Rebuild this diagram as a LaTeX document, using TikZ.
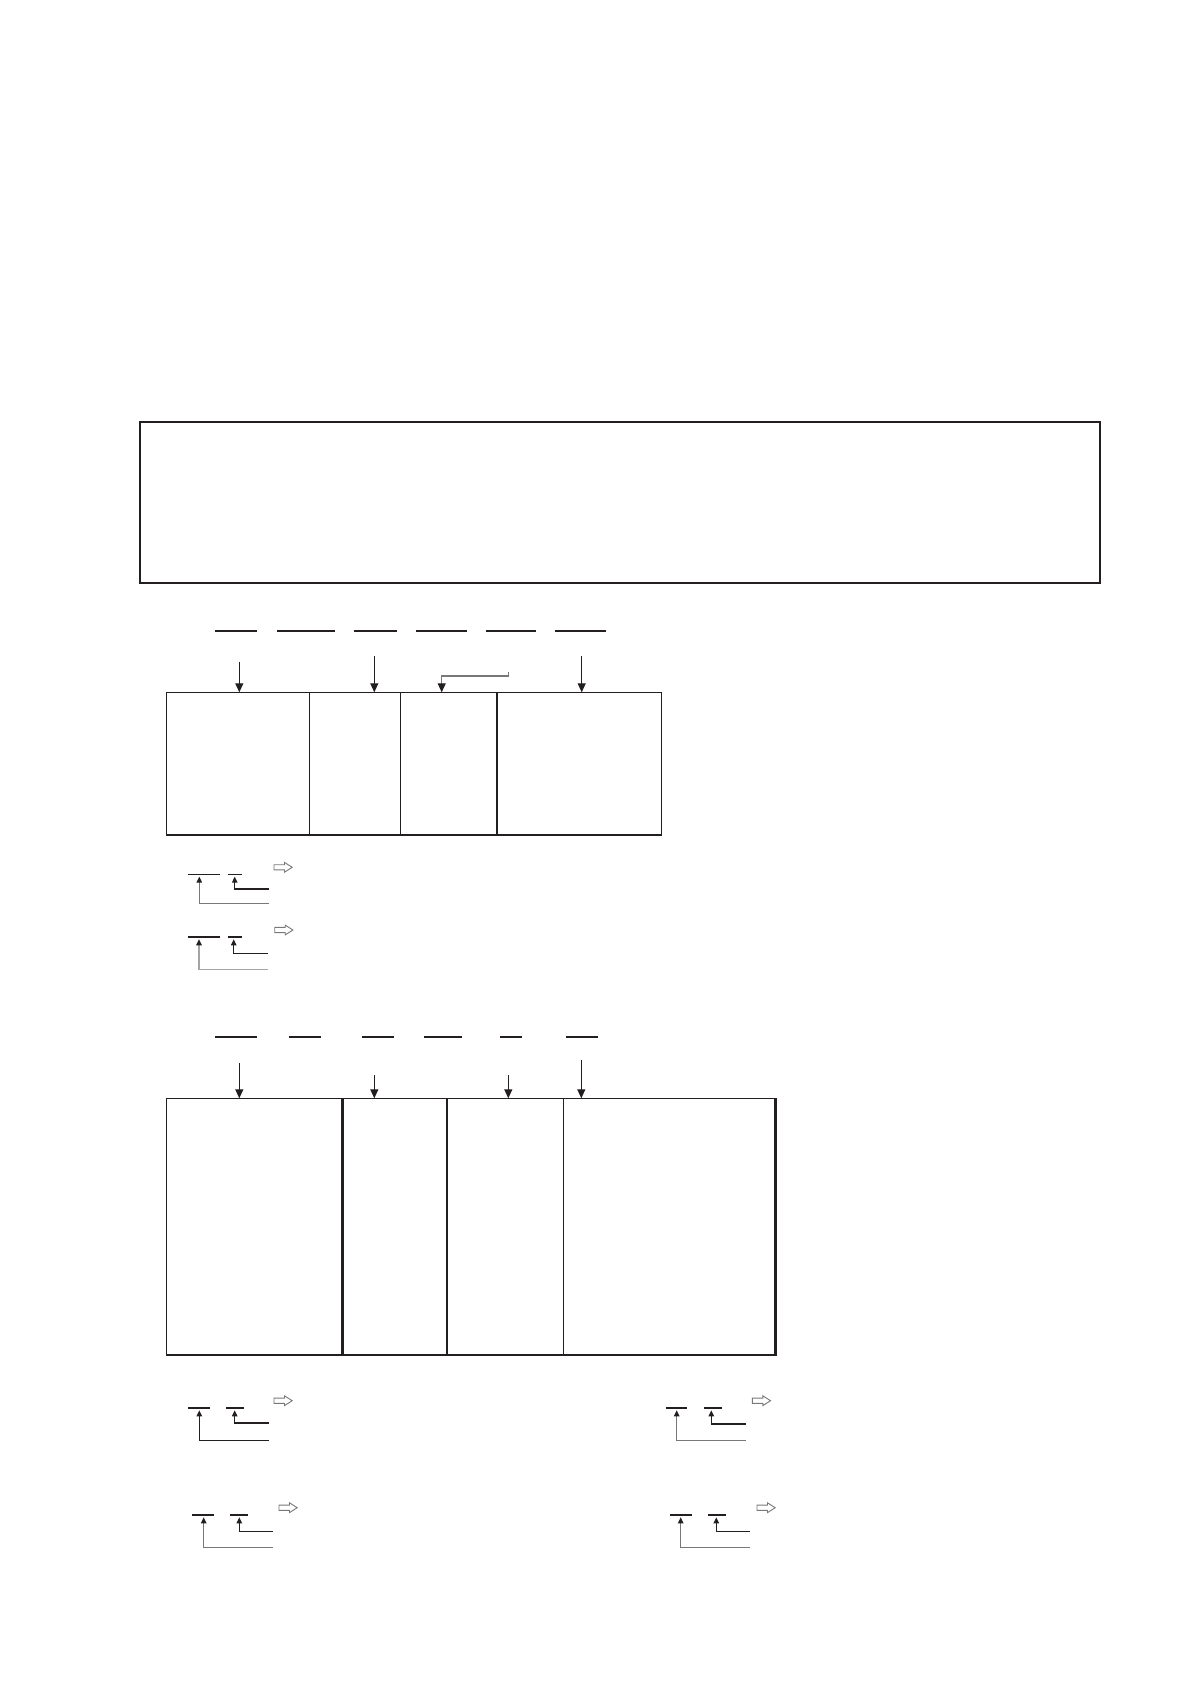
\documentclass[tikz,border=0pt]{standalone}
\usepackage{tikz}
\usetikzlibrary{arrows.meta,positioning}
\definecolor{inkblack}{RGB}{35,31,32}
\definecolor{leggray}{RGB}{120,120,120}
\definecolor{legpale}{RGB}{165,165,165}

\tikzset{
  cell/.style={draw=inkblack, line width=1.3pt, rectangle, inner sep=0pt, outer sep=0pt, anchor=north west},
  blank/.style={inkblack, line width=2pt},
  feed/.style={-{Triangle[length=9pt,width=8pt,color=inkblack]}, inkblack, line width=1.1pt},
  tag/.style={-{Triangle[length=6pt,width=5.5pt,color=inkblack]}, inkblack, line width=1.1pt},
  hollow/.style={draw=leggray, line width=0.9pt, fill=white, line join=miter},
}
\newcommand{\hollowarrow}[1]{%
  \draw[hollow] (#1) ++(0,-2.6) -- ++(10.5,0) -- ++(0,-2.3) -- ++(7.7,4.9)
    -- ++(-7.7,4.9) -- ++(0,-2.3) -- ++(-10.5,0) -- cycle;}

\begin{document}
\begin{tikzpicture}[x=1pt, y=-1pt]
\useasboundingbox[fill=white] (0,0) rectangle (1191,1684);
% Top frame
\node[cell, line width=2.2pt, minimum width=960.3pt, minimum height=161.3pt] (stem) at (140,422) {};

% Part one: blanks
\draw[blank] (215,630.5) -- (257.3,630.5);
\draw[blank] (277,630.5) -- (335.3,630.5);
\draw[blank] (354.3,630.5) -- (397,630.5);
\draw[blank] (416,630.5) -- (466.7,630.5);
\draw[blank] (485.7,630.5) -- (536,630.5);
\draw[blank] (555.3,630.5) -- (606,630.5);
% Part one: table
\node[cell, minimum width=143.4pt, minimum height=142.7pt] (oneA) at (166.3,692.3) {};
\node[cell, minimum width=90.6pt, minimum height=142.7pt, right=0pt of oneA] (oneB) {};
\node[cell, minimum width=96.7pt, minimum height=142.7pt, right=0pt of oneB] (oneC) {};
\node[cell, minimum width=164.3pt, minimum height=142.7pt, right=0pt of oneC] (oneD) {};
\draw[inkblack, line width=2.2pt] (oneD.north west) -- (oneD.south west);
% Part one: arrows
\coordinate (fa) at (239.3,661.7);
\coordinate (fb) at (374.3,656);
\coordinate (fc) at (508.3,671.7);
\coordinate (fd) at (581.7,656.3);
\draw[feed] (fa) -- (fa |- oneA.north);
\draw[feed] (fb) -- (fb |- oneB.north);
\draw[feed, draw=leggray] (fc) -- ++(0,4.3) -- ++(-66.6,0) coordinate (fcbend) -- (fcbend |- oneC.north);
\draw[feed] (fd) -- (fd |- oneD.north);

% Part one: notes
\hollowarrow{274,867.3}
\draw[inkblack, line width=1.4pt] (188,874.3) -- (220,874.3);
\draw[inkblack, line width=1.4pt] (227.7,874.3) -- (242,874.3);
\coordinate (na1) at (269,903.7);
\coordinate (na2) at (269,889);
\draw[tag, draw=leggray] (na1) -| (199.3,876.7);
\draw[tag] (na2) -| (234.7,876.7);

\hollowarrow{274.7,930}
\draw[inkblack, line width=2pt] (188,936.7) -- (220,936.7);
\draw[inkblack, line width=2pt] (228,936.7) -- (242,936.7);
\coordinate (nb1) at (268,969.7);
\coordinate (nb2) at (268,953.3);
\draw[tag, draw=legpale] (nb1) -| (199,939.3);
\draw[tag] (nb2) -| (233.7,939.3);

% Part two: blanks
\draw[blank] (215.3,1036.7) -- (257.3,1036.7);
\draw[blank] (289.3,1036.7) -- (321.3,1036.7);
\draw[blank] (362,1036.7) -- (393.7,1036.7);
\draw[blank] (424.3,1036.7) -- (461.7,1036.7);
\draw[blank] (500.3,1036.7) -- (521.7,1036.7);
\draw[blank] (566.3,1036.7) -- (598.3,1036.7);
% Part two: table
\node[cell, minimum width=176.2pt, minimum height=256.7pt] (twoA) at (166.3,1098.3) {};
\node[cell, minimum width=104.5pt, minimum height=256.7pt, right=0pt of twoA] (twoB) {};
\node[cell, minimum width=116.5pt, minimum height=256.7pt, right=0pt of twoB] (twoC) {};
\node[cell, minimum width=212pt, minimum height=256.7pt, right=0pt of twoC] (twoD) {};
\draw[inkblack, line width=2.2pt] (twoB.north west) -- (twoB.south west);
\draw[inkblack, line width=2.2pt] (twoA.south west) -- (twoD.south east) -- (twoD.north east);
% Part two: arrows
\coordinate (ga) at (239.3,1063.3);
\coordinate (gb) at (374.3,1075);
\coordinate (gc) at (508.3,1075);
\coordinate (gd) at (581.3,1060);
\draw[feed] (ga) -- (ga |- twoA.north);
\draw[feed] (gb) -- (gb |- twoB.north);
\draw[feed] (gc) -- (gc |- twoC.north);
\draw[feed] (gd) -- (gd |- twoD.north);

% Part two: notes, left
\hollowarrow{274,1400.7}
\draw[inkblack, line width=1.8pt] (188,1407.7) -- (209.7,1407.7);
\draw[inkblack, line width=1.8pt] (226,1407.7) -- (243.7,1407.7);
\coordinate (nc1) at (269,1440.3);
\coordinate (nc2) at (269,1423);
\draw[tag] (nc1) -| (199.3,1410.3);
\draw[tag] (nc2) -| (234.7,1410.3);

\hollowarrow{279,1507.7}
\draw[inkblack, line width=1.8pt] (192,1514.7) -- (214,1514.7);
\draw[inkblack, line width=1.8pt] (230,1514.7) -- (247.7,1514.7);
\coordinate (nd1) at (273,1547.3);
\coordinate (nd2) at (273,1531.3);
\draw[tag, draw=leggray] (nd1) -| (203.7,1517.3);
\draw[tag] (nd2) -| (239.3,1517.3);

% Part two: notes, right
\hollowarrow{752.3,1400.7}
\draw[inkblack, line width=1.8pt] (665.7,1407.7) -- (687.3,1407.7);
\draw[inkblack, line width=1.8pt] (704,1407.7) -- (721.7,1407.7);
\coordinate (ne1) at (745.7,1440.3);
\coordinate (ne2) at (745.7,1424);
\draw[tag, draw=leggray] (ne1) -| (676.7,1410.3);
\draw[tag] (ne2) -| (711.3,1410.3);

\hollowarrow{757,1507.7}
\draw[inkblack, line width=1.8pt] (670,1514.7) -- (691.7,1514.7);
\draw[inkblack, line width=1.8pt] (708.3,1514.7) -- (726,1514.7);
\coordinate (nf1) at (749.7,1547.3);
\coordinate (nf2) at (749.7,1531.3);
\draw[tag, draw=leggray] (nf1) -| (680.7,1517.3);
\draw[tag] (nf2) -| (716.3,1517.3);
\end{tikzpicture}
\end{document}
